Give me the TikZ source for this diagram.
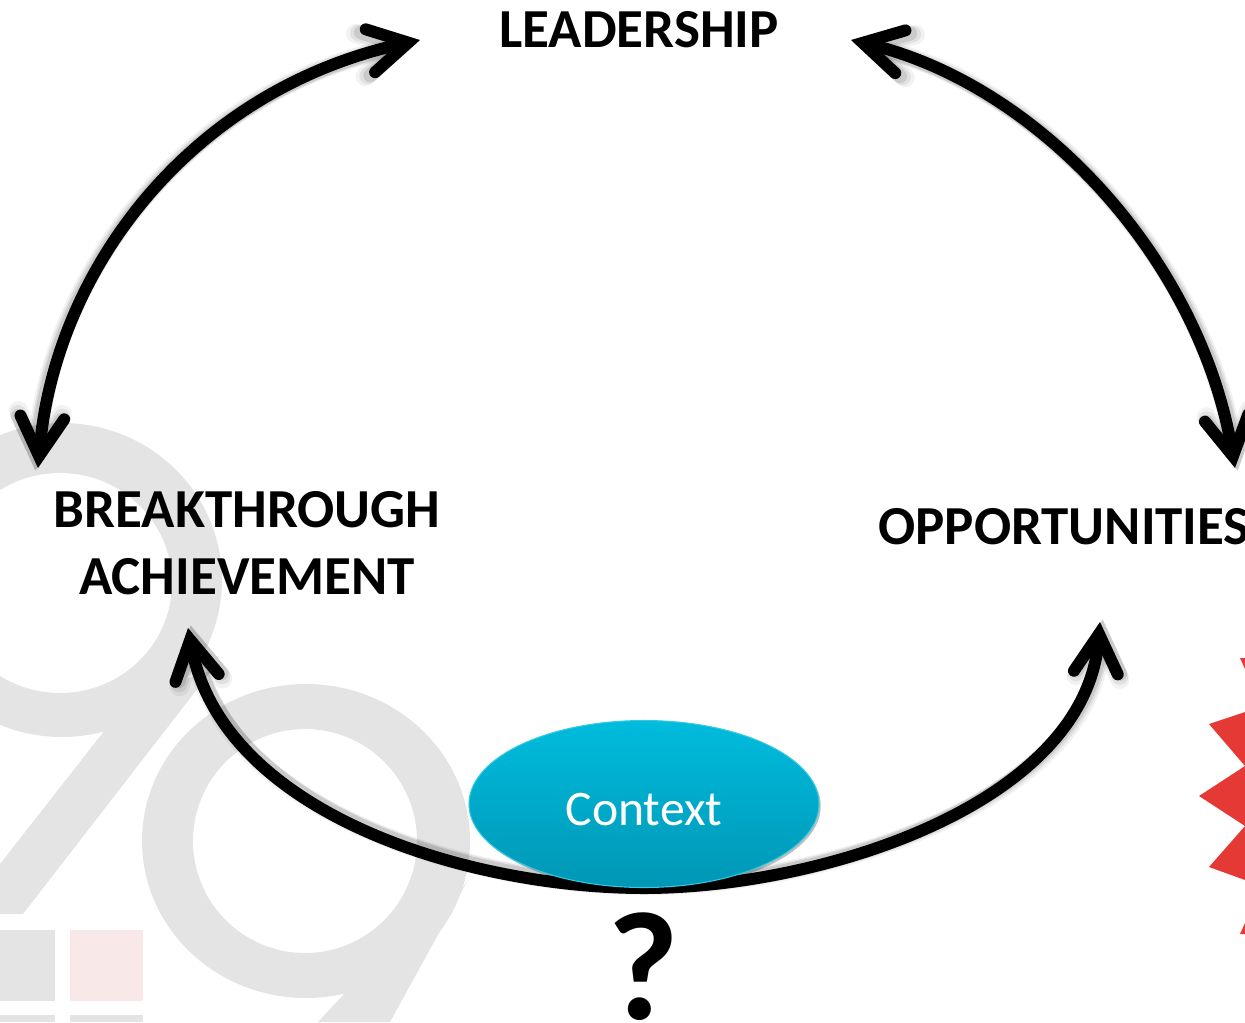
\documentclass[tikz,border=0pt]{standalone}
\usepackage{fontspec}
\setmainfont{Carlito}
\usetikzlibrary{arrows.meta,shapes.geometric,backgrounds}

\definecolor{markgray}{HTML}{E4E4E4}
\definecolor{markpink}{HTML}{F8E8E8}
\definecolor{starred}{HTML}{E53935}
\definecolor{ovaltop}{HTML}{00BCDD}
\definecolor{ovalbottom}{HTML}{0097B5}

\tikzset{
    barb/.tip = {Straight Barb[length=22pt,width=25pt,line cap=round,line join=miter]},
    heading/.style = {font=\fontsize{31.3}{38}\selectfont\bfseries, align=center, text=black, inner sep=0pt},
    loopcurve/.style = {line width=6.8pt, draw=black,
        preaction={draw=black, opacity=.05, line width=11pt, transform canvas={shift={#1}}},
        preaction={draw=black, opacity=.07, line width=9.5pt, transform canvas={shift={#1}}},
        preaction={draw=black, opacity=.10, line width=8pt, transform canvas={shift={#1}}}}
}

\begin{document}
\begin{tikzpicture}[x=0.02cm, y=-0.02cm]
    \useasboundingbox (0,0) rectangle (1245,1022);

    \node [heading] (leadership) at (639,30) {LEADERSHIP};
    \node [heading] (breakthrough) at (247,543) {BREAKTHROUGH\\ACHIEVEMENT};
    \node [heading, anchor=west] (opportunities) at (878,527) {OPPORTUNITIES};
    \node [ellipse, minimum width=350*0.02cm, minimum height=167*0.02cm, inner sep=0pt,
        top color=ovaltop, bottom color=ovalbottom, draw=ovaltop!80!white, line width=.6pt,
        preaction={fill=black, opacity=.25, transform canvas={shift={(1pt,-1.2pt)}}},
        font=\fontsize{28.3}{30}\selectfont, text=white] (context) at (644,804) {\raisebox{0pt}[24pt][0pt]{Context}};
    \node [font=\fontsize{88}{88}\selectfont\bfseries, inner sep=0pt] (question) at (643,967) {?};

    \coordinate (leadleft) at (420,40);
    \coordinate (leadright) at (851,40);
    \coordinate (breaktop) at (38,468);
    \coordinate (opptop) at (1235,468);
    \coordinate (breakbottom) at (188,628);
    \coordinate (oppbottom) at (1100,622);

    \begin{scope}[on background layer]
        % faint figures behind the loop
        \fill [markgray, even odd rule] (62,580) ellipse [x radius=160, y radius=157] (60,583) ellipse [x radius=112, y radius=110];
        \fill [markgray] (130,698) -- (0,864) -- (0,914) -- (23,914) -- (212,670) -- cycle;
        \fill [markgray, even odd rule] (306,841) ellipse [x radius=164, y radius=157] (305,841) ellipse [x radius=112, y radius=112];
        \fill [markgray] (468,880) -- (390,1022) -- (318,1022) -- (345,993) -- (420,950) -- cycle;
        \fill [markgray] (0,930) rectangle (55,1001);
        \fill [markpink] (70,930) rectangle (143,1001);
        \fill [markgray] (0,1015) rectangle (55,1022);
        \fill [markgray] (70,1015) rectangle (143,1022);

        \fill [starred] (1245,712) -- (1209,724) -- (1245,766) -- (1199,796) -- (1245,826) -- (1209,867) -- (1245,880) -- cycle;
        \fill [starred] (1240,658) -- (1245,658) -- (1245,669) -- cycle;
        \fill [starred] (1240,934) -- (1245,934) -- (1245,923) -- cycle;

        \draw [loopcurve={(-1.5pt,-1.5pt)}, barb-barb] (leadleft) .. controls (190,90) and (55,270) .. (breaktop);
        \draw [loopcurve={(1.5pt,-1.5pt)}, barb-barb] (leadright) .. controls (1040,85) and (1200,260) .. (opptop);
        \draw [loopcurve={(1.5pt,1.5pt)}, -barb] (context.south) .. controls (470,888) and (222,815) .. (breakbottom);
        \draw [loopcurve={(1.5pt,1.5pt)}, -barb] (context.south) .. controls (820,888) and (1085,805) .. (oppbottom);
    \end{scope}
\end{tikzpicture}
\end{document}
